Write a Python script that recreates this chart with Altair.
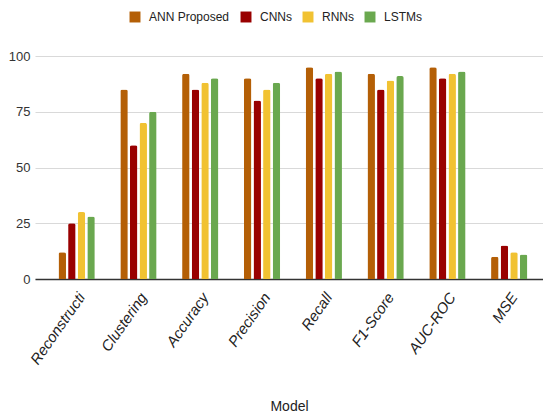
import altair as alt
import pandas as pd

metrics = ["Reconstructi", "Clustering", "Accuracy", "Precision", "Recall", "F1-Score", "AUC-ROC", "MSE"]
series = ["ANN Proposed", "CNNs", "RNNs", "LSTMs"]
ann = [12, 85, 92, 90, 95, 92, 95, 10]
cnn = [25, 60, 85, 80, 90, 85, 90, 15]
rnn = [30, 70, 88, 85, 92, 89, 92, 12]
lstm = [28, 75, 90, 88, 93, 91, 93, 11]
colors = ["#b45f06", "#990000", "#f1c232", "#6aa84f"]

rows = []
for name, vals in zip(series, [ann, cnn, rnn, lstm]):
    for m, v in zip(metrics, vals):
        rows.append({"Model": m, "Series": name, "Value": v})
df = pd.DataFrame(rows)

FONT = "Liberation Sans"

chart = alt.Chart(df).mark_bar(
    cornerRadiusTopLeft=2, cornerRadiusTopRight=2
).encode(
    x=alt.X("Model:N", sort=metrics,
            scale=alt.Scale(paddingInner=0.413, paddingOuter=0.317, align=0.6),
            axis=alt.Axis(title="Model", labelAngle=305, labelAlign="right",
                          labelBaseline="middle", labelPadding=15, labelOffset=5,
                          labelFontStyle="italic", labelFontSize=15, labelColor="#222",
                          labelFont=FONT, ticks=False, domainColor="#333",
                          domainWidth=1.5, titleFont=FONT, titleFontSize=14,
                          titleFontWeight="normal", titleColor="#222",
                          titleY=120, titleBaseline="top", grid=False)),
    xOffset=alt.XOffset("Series:N", sort=series,
                        scale=alt.Scale(paddingInner=0.22, paddingOuter=0)),
    y=alt.Y("Value:Q", scale=alt.Scale(domain=[0, 100]),
            axis=alt.Axis(title=None, values=[0, 25, 50, 75, 100], domain=False,
                          ticks=False, labelPadding=5, labelFontSize=13,
                          labelFont=FONT, labelColor="#333", gridColor="#d9d9d9")),
    color=alt.Color("Series:N", sort=series,
                    scale=alt.Scale(domain=series, range=colors),
                    legend=alt.Legend(title=None, orient="none", direction="horizontal",
                                      legendX=94, legendY=-45, symbolType="square",
                                      symbolSize=120, symbolStrokeWidth=0,
                                      labelFontSize=12, labelFont=FONT,
                                      labelColor="#222", labelOffset=8,
                                      columnPadding=10)),
).properties(
    width=508, height=223,
    autosize=alt.AutoSizeParams(type="none"),
    padding={"left": 35, "top": 56, "right": 0, "bottom": 139},
).configure_view(stroke=None)

chart.save("out.html", embed_options={"renderer": "svg", "actions": False})
